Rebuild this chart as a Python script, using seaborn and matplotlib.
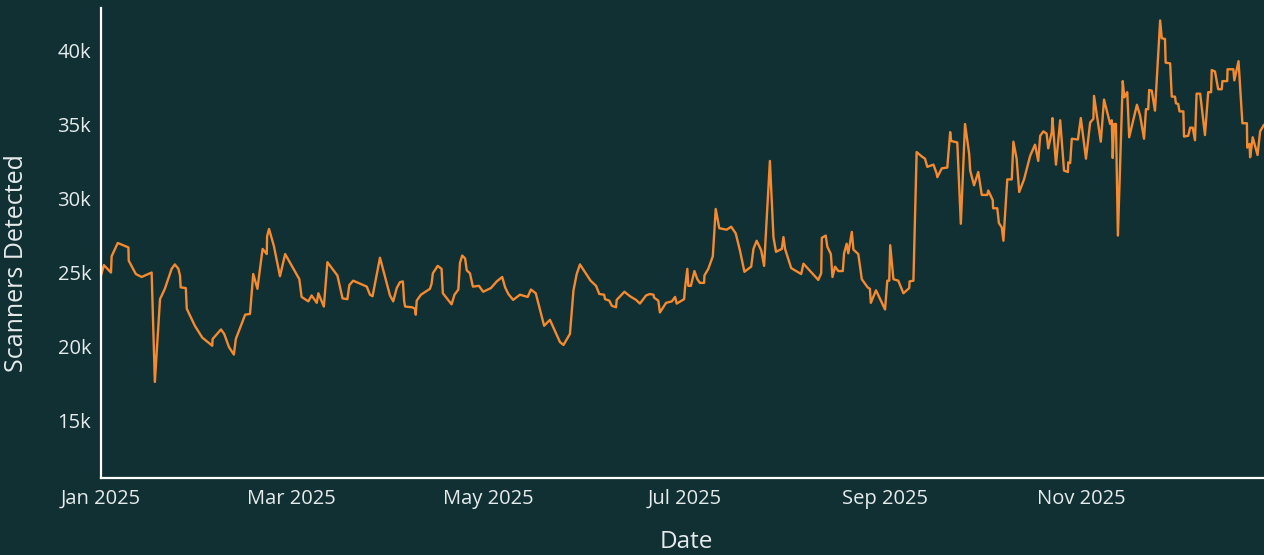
import pandas as pd
import seaborn as sns
import matplotlib.pyplot as plt
import matplotlib.dates as mdates
from matplotlib.ticker import FuncFormatter

# Daily scanner counts: days since 2025-01-01 and counts (thousands)
day_offset = [
    0.0, 0.9, 3.1, 3.3, 5.2, 8.5, 8.6, 10.8, 12.6, 15.7, 16.7, 18.3, 19.8, 21.9, 22.9, 24.0,
    24.5, 24.7, 26.3, 26.6, 29.1, 31.4, 34.5, 34.6, 37.2, 38.2, 39.7, 41.2, 41.8, 44.7, 46.2,
    47.2, 48.5, 50.1, 51.4, 51.5, 52.1, 53.6, 55.5, 57.1, 61.5, 62.2, 64.3, 65.3, 66.9, 67.4,
    69.1, 70.2, 73.3, 74.9, 76.4, 77.0, 78.2, 82.4, 83.4, 84.2, 86.5, 89.6, 90.6, 91.7, 92.7,
    93.6, 94.0, 94.3, 96.5, 97.4, 97.6, 97.9, 99.2, 102.0, 102.5, 102.9, 104.4, 105.6, 106.0,
    108.7, 109.6, 110.8, 111.3, 112.0, 112.9, 113.4, 114.4, 115.3, 117.2, 118.5, 120.9, 122.7,
    124.4, 125.3, 126.3, 127.8, 129.9, 132.3, 133.3, 134.8, 137.4, 139.2, 142.3, 143.4, 145.4,
    146.5, 147.5, 148.5, 151.8, 153.5, 154.5, 156.0, 156.3, 157.6, 158.4, 159.7, 159.9, 162.3,
    164.0, 165.9, 167.1, 169.0, 170.2, 171.3, 171.5, 172.8, 173.3, 175.2, 177.0, 178.0, 178.5,
    180.8, 181.1, 181.8, 182.1, 182.9, 184.0, 184.9, 185.7, 187.0, 187.1, 188.3, 189.7, 190.6,
    191.7, 194.0, 195.4, 196.8, 198.1, 199.5, 201.6, 202.3, 203.3, 204.7, 205.6, 207.4, 208.5,
    209.3, 211.1, 211.6, 212.1, 214.0, 217.1, 217.8, 222.4, 223.3, 223.5, 224.7, 225.2, 226.3,
    226.8, 227.6, 228.6, 230.0, 230.4, 231.2, 231.7, 232.8, 233.3, 234.8, 235.9, 237.7, 238.4,
    238.7, 240.3, 241.8, 243.1, 243.8, 244.4, 244.7, 245.7, 247.2, 248.8, 250.6, 250.7, 251.9,
    252.9, 254.5, 255.5, 256.2, 258.1, 259.1, 259.3, 260.7, 262.4, 263.3, 263.6, 265.5, 266.6,
    267.9, 269.2, 269.5, 270.7, 272.0, 273.1, 274.8, 275.1, 276.5, 276.6, 277.9, 278.4, 279.3,
    279.8, 281.0, 282.4, 282.9, 283.9, 284.7, 286.2, 288.1, 289.6, 290.6, 291.2, 292.2, 293.2,
    293.7, 294.8, 295.0, 296.1, 297.4, 298.6, 299.8, 299.9, 300.5, 301.0, 302.9, 303.8, 305.4,
    306.7, 307.7, 307.9, 310.0, 311.0, 312.9, 313.4, 313.7, 314.1, 314.7, 315.3, 316.8, 317.3,
    318.2, 318.8, 321.2, 322.2, 323.4, 324.0, 324.7, 325.0, 325.8, 326.8, 328.4, 328.9, 329.9,
    330.1, 331.5, 332.0, 333.0, 333.3, 334.0, 334.4, 335.6, 335.8, 337.1, 337.7, 338.5, 339.2,
    339.7, 340.8, 342.3, 343.3, 344.2, 344.4, 345.4, 346.4, 347.5, 347.7, 349.2, 349.3, 351.1,
    351.4, 352.7, 353.9, 355.3, 355.4, 356.1, 356.3, 357.1, 358.6, 359.4, 360.6,
]
scanners_k = [
    24.8, 25.5, 25.0, 26.1, 27.0, 26.7, 25.8, 24.9, 24.7, 25.0, 17.6, 23.2, 23.9, 25.25, 25.55, 25.25,
    24.8, 24.0, 23.95, 22.55, 21.4, 20.6, 20.05, 20.5, 21.15, 20.85, 19.95, 19.45, 20.5, 22.15, 22.2,
    24.9, 23.9, 26.6, 26.25, 27.45, 27.95, 26.8, 24.75, 26.25, 24.55, 23.35, 23.05, 23.45, 22.95, 23.6,
    22.7, 25.7, 24.8, 23.25, 23.2, 24.15, 24.45, 24.05, 23.5, 23.4, 26.0, 23.45, 23.05, 23.95, 24.35,
    24.4, 23.05, 22.7, 22.65, 22.55, 22.15, 23.1, 23.5, 23.9, 24.25, 24.95, 25.45, 25.25, 23.6,
    22.85, 23.5, 23.85, 25.65, 26.15, 25.95, 25.15, 24.95, 24.05, 24.1, 23.7, 23.95, 24.4,
    24.7, 24.0, 23.55, 23.15, 23.5, 23.35, 23.85, 23.6, 21.4, 21.8, 20.3, 20.1, 20.85,
    23.8, 24.9, 25.55, 24.45, 24.1, 23.55, 23.5, 23.2, 23.1, 22.75, 22.65, 23.15, 23.7,
    23.4, 23.15, 22.9, 23.45, 23.55, 23.5, 23.3, 23.1, 22.3, 22.95, 23.05, 23.35, 22.9,
    23.2, 24.0, 25.25, 24.1, 24.1, 25.1, 24.55, 24.3, 24.3, 24.8, 25.25, 26.1, 29.3,
    28.0, 27.9, 28.1, 27.65, 26.5, 25.05, 25.4, 26.6, 27.15, 26.5, 25.45, 32.55, 27.4,
    26.4, 26.6, 27.4, 26.6, 25.3, 24.9, 25.6, 24.5, 24.95, 27.35, 27.5, 26.75, 26.25,
    24.7, 25.4, 25.1, 25.1, 26.3, 26.95, 26.3, 27.75, 26.55, 26.25, 24.55, 24.0, 23.9,
    22.95, 23.8, 23.1, 22.5, 24.45, 24.45, 26.85, 24.55, 24.45, 23.6, 23.95, 24.4, 24.45,
    33.15, 32.85, 32.7, 32.15, 32.3, 31.7, 31.45, 32.05, 32.1, 34.5, 33.9, 33.8, 28.3,
    35.05, 33.0, 31.9, 30.9, 31.8, 30.25, 30.25, 30.55, 29.9, 29.35, 29.35, 28.35, 28.05,
    27.15, 31.3, 31.3, 33.85, 32.7, 30.45, 31.3, 32.9, 33.65, 32.55, 34.25, 34.55, 34.4,
    33.4, 34.5, 35.45, 32.3, 35.3, 31.9, 31.8, 32.45, 32.4, 34.05, 34.0, 35.45, 32.7,
    35.15, 35.4, 36.95, 33.85, 36.7, 35.05, 35.3, 32.75, 35.05, 35.05, 27.5, 37.95, 36.85,
    37.2, 34.15, 36.35, 35.6, 34.05, 36.05, 36.05, 37.35, 37.3, 35.95, 42.05, 40.85, 40.8,
    39.2, 39.15, 36.9, 36.9, 36.45, 36.4, 35.9, 35.9, 34.2, 34.25, 34.8, 34.8, 33.95,
    37.1, 37.1, 34.3, 37.2, 37.2, 38.7, 38.6, 37.4, 37.4, 37.95, 37.95, 38.75, 38.75,
    38.0, 39.3, 35.1, 35.1, 33.45, 33.7, 32.8, 34.15, 32.95, 34.55, 35.0,
]

bg = "#113034"
line_color = "#f58a2e"
text_color = "#e6ecec"

df = pd.DataFrame({
    "Date": pd.Timestamp("2025-01-01") + pd.to_timedelta(day_offset, unit="D"),
    "Scanners Detected": [v * 1000 for v in scanners_k],
})

sns.set_theme(style="dark")
plt.rcParams["font.family"] = ["Open Sans", "DejaVu Sans"]

fig = plt.figure(figsize=(12.64, 5.55), dpi=100, facecolor=bg)
ax = fig.add_axes([0.0799, 0.1387, 0.9201, 0.847])
ax.set_facecolor(bg)

sns.lineplot(data=df, x="Date", y="Scanners Detected", ax=ax, color=line_color,
             linewidth=1.7, estimator=None, sort=False)

ax.set_xlim(df["Date"].min(), df["Date"].max())
ax.set_ylim(11100, 42900)
ax.set_yticks([15000, 20000, 25000, 30000, 35000, 40000])
ax.yaxis.set_major_formatter(FuncFormatter(lambda v, p: f"{int(v / 1000)}k"))
ax.xaxis.set_major_locator(mdates.MonthLocator(bymonth=[1, 3, 5, 7, 9, 11]))
ax.xaxis.set_major_formatter(mdates.DateFormatter("%b %Y"))

ax.tick_params(axis="both", length=0, colors=text_color, labelsize=14.5)
ax.tick_params(axis="x", pad=8)
ax.tick_params(axis="y", pad=7)
ax.grid(False)

for side in ["top", "right"]:
    ax.spines[side].set_visible(False)
for side in ["left", "bottom"]:
    ax.spines[side].set_visible(True)
    ax.spines[side].set_color("white")
    ax.spines[side].set_linewidth(1.6)

ax.set_xlabel("Date", color=text_color, fontsize=17.5)
ax.set_ylabel("Scanners Detected", color=text_color, fontsize=18)
ax.xaxis.set_label_coords(0.503, -0.11)
ax.yaxis.set_label_coords(-0.062, 0.457)

fig.savefig("out.png", dpi=100, facecolor=bg)
